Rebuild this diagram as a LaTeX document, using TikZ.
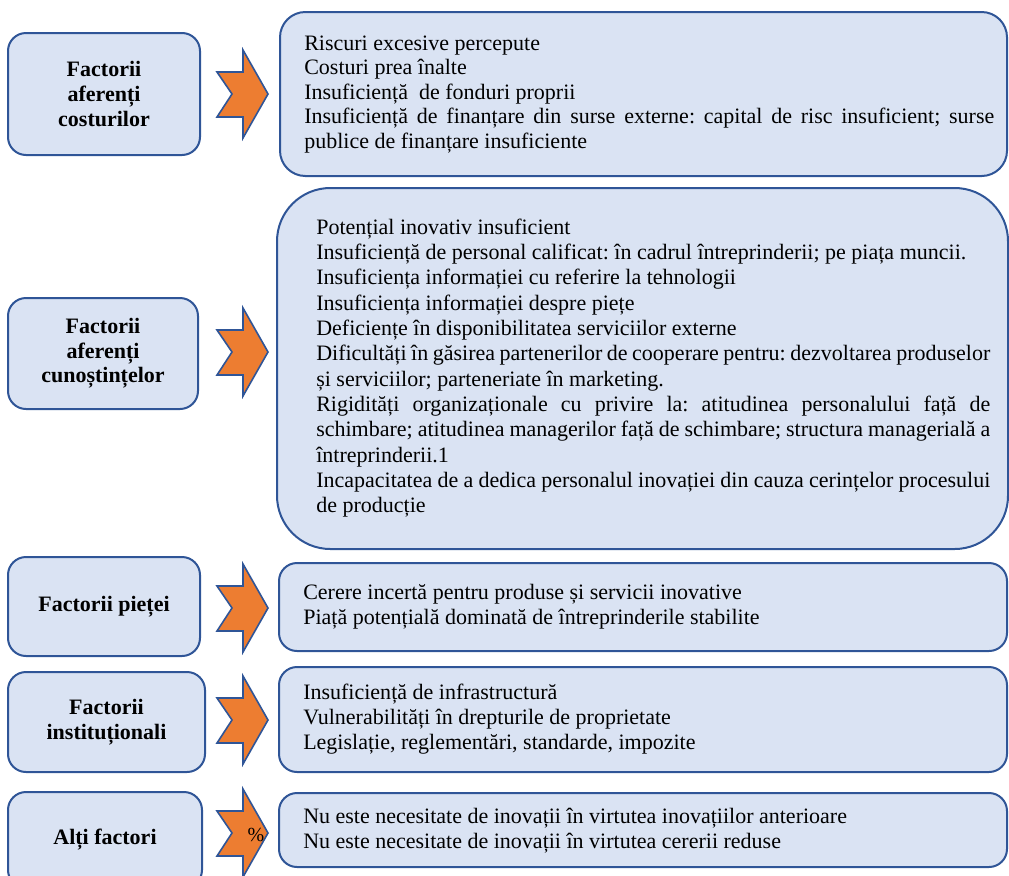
\documentclass[tikz,border=0pt]{standalone}
\usepackage{fontspec}
\setmainfont{Liberation Serif}
\frenchspacing
\definecolor{bordblue}{HTML}{2F5597}
\definecolor{boxfill}{HTML}{DAE3F3}
\definecolor{arrorange}{HTML}{ED7D31}
\newcommand\notcharr[1]{%
  \draw[arrowshape] (217,{#1-22}) -- (243,{#1-22}) -- (243,{#1-44}) -- (268,#1)
    -- (243,{#1+44}) -- (243,{#1+23}) -- (217,{#1+23}) -- (232,#1) -- cycle;}
\begin{document}
\begin{tikzpicture}[x=0.75pt,y=-0.75pt,
  box/.style={draw=bordblue, fill=boxfill, line width=1.5pt, rounded corners=13.5pt, inner sep=0pt},
  lbl/.style={box, font=\bfseries\fontsize{16.5}{18.4}\selectfont, align=center},
  txt/.style={anchor=base west, inner sep=0pt, align=justify, font=\fontsize{16.5}{19}\selectfont},
  arrowshape/.style={draw=bordblue, fill=arrorange, line width=1.2pt, line join=miter}]
\useasboundingbox (0,0) rectangle (1009,875);
% left label boxes
\node[lbl, minimum width=144pt, minimum height=91.5pt] (b1) at (104,94) {Factorii\\aferenți\\costurilor};
\node[lbl, minimum width=142.5pt, minimum height=83.25pt] (b2) at (103,353.5) {Factorii\\aferenți\\cunoștințelor};
\node[lbl, minimum width=144pt, minimum height=74.25pt] (b3) at (104,606.5) {Factorii pieței};
\node[lbl, minimum width=147.75pt, minimum height=75pt] (b4) at (106.5,722) {Factorii\\instituționali};
\node[lbl, minimum width=145.5pt, minimum height=72pt] (b5) at (105,840) {Alți factori};
% arrows
\notcharr{94}
\notcharr{352}
\notcharr{608}
\notcharr{720}
\notcharr{833}
\node[inner sep=0pt, font=\fontsize{15}{15}\selectfont] (pct) at (256,835) {\%};
% right boxes
\node[box, rounded corners=19pt, minimum width=545.25pt, minimum height=123pt] (r1) at (643.5,94) {};
\node[box, rounded corners=40pt, minimum width=548.25pt, minimum height=270.75pt] (r2) at (642.5,368.5) {};
\node[box, minimum width=546pt, minimum height=66pt] (r3) at (643,607) {};
\node[box, minimum width=546pt, minimum height=78.75pt] (r4) at (643,719.5) {};
\node[box, minimum width=546pt, minimum height=55.5pt] (r5) at (643,830) {};
% texts
\node[txt, text width=517.5pt, font=\fontsize{16.5}{18.4}\selectfont] (t1) at (304,50) {%
Riscuri excesive percepute\par
Costuri prea înalte\par
Insuficiență\ \ de fonduri proprii\par
Insuficiență de finanțare din surse externe: capital de risc insuficient; surse\linebreak
publice de finanțare insuficiente};
\node[txt, text width=505.5pt] (t2) at (316,234) {%
Potențial inovativ insuficient\par
Insuficiență de personal calificat: în cadrul întreprinderii; pe piața muncii.\par
Insuficiența informației cu referire la tehnologii\par
Insuficiența informației despre piețe\par
Deficiențe în disponibilitatea serviciilor externe\par
Dificultăți în găsirea partenerilor de cooperare pentru: dezvoltarea produselor\linebreak
și serviciilor; parteneriate în marketing.\par
Rigidități organizaționale cu privire la: atitudinea personalului față de\linebreak
schimbare; atitudinea managerilor față de schimbare; structura managerială a\linebreak
întreprinderii.1\par
Incapacitatea de a dedica personalul inovației din cauza cerințelor procesului\linebreak
de producție};
\node[txt, text width=505.5pt] (t3) at (303,599) {%
Cerere incertă pentru produse și servicii inovative\par
Piață potențială dominată de întreprinderile stabilite};
\node[txt, text width=505.5pt] (t4) at (303,699) {%
Insuficiență de infrastructură\par
Vulnerabilități în drepturile de proprietate\par
Legislație, reglementări, standarde, impozite};
\node[txt, text width=505.5pt] (t5) at (303,823) {%
Nu este necesitate de inovații în virtutea inovațiilor anterioare\par
Nu este necesitate de inovații în virtutea cererii reduse};
\end{tikzpicture}
\end{document}
